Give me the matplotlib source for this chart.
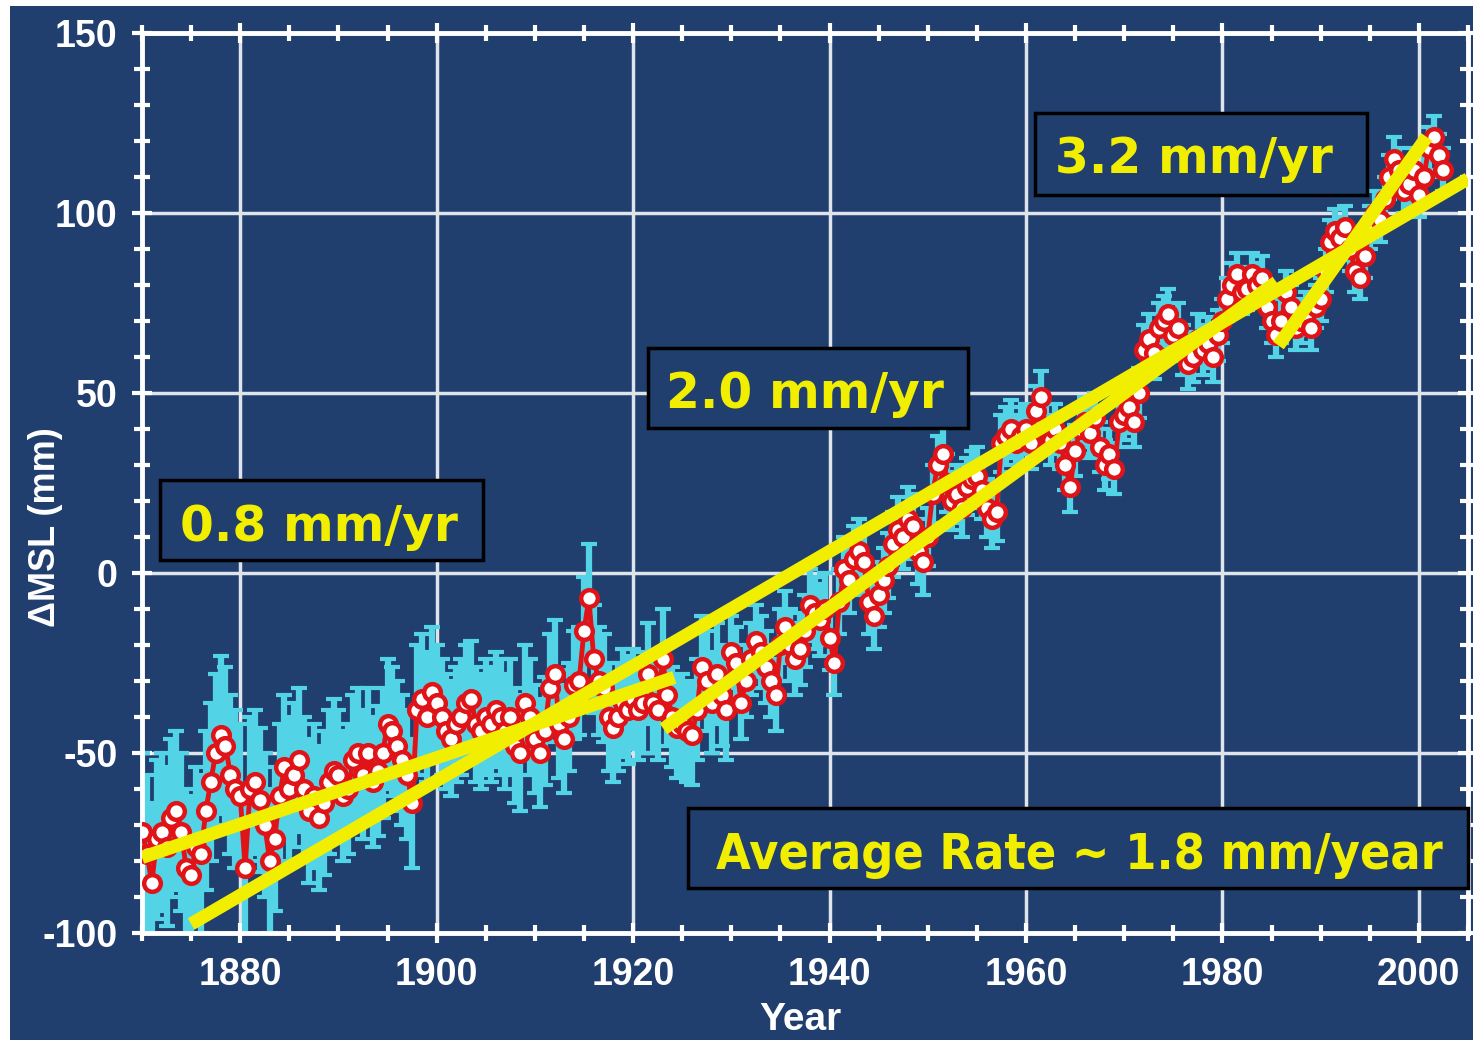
import numpy as np
import matplotlib
matplotlib.use("Agg")
import matplotlib.pyplot as plt
from matplotlib.patches import Rectangle

plt.rcParams["axes.unicode_minus"] = False

# half-yearly mean sea level anomaly (mm), one list per decade
msl_1870s = [-72, -78, -86, -74, -72, -76, -68, -66, -72, -82, -84, -76, -78, -66, -58, -50, -45, -48, -56, -60]
msl_1880s = [-62, -82, -60, -58, -63, -70, -80, -74, -62, -54, -60, -56, -52, -60, -66, -62, -68, -64, -58, -55]
msl_1890s = [-56, -62, -60, -52, -50, -56, -50, -58, -55, -50, -42, -44, -48, -52, -56, -64, -38, -35, -40, -33]
msl_1900s = [-36, -40, -44, -46, -42, -40, -36, -35, -42, -44, -40, -42, -38, -40, -44, -40, -48, -50, -36, -40]
msl_1910s = [-46, -50, -44, -32, -28, -42, -46, -40, -31, -30, -16, -7, -24, -30, -32, -40, -43, -40, -36, -38]
msl_1920s = [-35, -38, -36, -28, -36, -38, -24, -34, -40, -43, -42, -44, -45, -38, -26, -30, -36, -28, -34, -38]
msl_1930s = [-22, -25, -36, -30, -24, -19, -22, -26, -30, -34, -20, -15, -20, -24, -21, -16, -9, -11, -13, -10]
msl_1940s = [-18, -25, -8, 1, -2, 4, 6, 3, -8, -12, -6, -2, 2, 8, 12, 10, 15, 13, 6, 3]
msl_1950s = [10, 22, 30, 33, 25, 20, 22, 18, 24, 26, 27, 23, 18, 15, 17, 36, 38, 40, 36, 38]
msl_1960s = [40, 36, 45, 49, 40, 37, 40, 36, 30, 24, 34, 40, 42, 39, 43, 35, 30, 33, 29, 42]
msl_1970s = [44, 46, 42, 50, 62, 65, 61, 68, 70, 72, 66, 68, 62, 58, 60, 65, 62, 64, 60, 66]
msl_1980s = [70, 76, 80, 83, 78, 79, 83, 80, 82, 74, 70, 66, 70, 78, 74, 68, 70, 72, 68, 74]
msl_1990s = [76, 84, 92, 95, 93, 96, 90, 84, 82, 88, 96, 100, 98, 104, 110, 115, 112, 106, 108, 112]
msl_2000s = [105, 110, 118, 121, 116, 112]

# error bar half-width (mm) per decade
err_by_decade = [22, 20, 18, 16, 15, 14, 10, 9, 8, 7, 7, 6, 6, 6]

# trend lines: (start year, start mm, end year, end mm)
trend_08 = [(1870.0, -79.0), (1924.2, -29.0)]
trend_avg = [(1875.0, -97.5), (2005.0, 109.5)]
trend_20 = [(1923.1, -43.3), (1985.5, 80.8)]
trend_32 = [(1985.7, 63.2), (2000.8, 121.1)]

decades = [msl_1870s, msl_1880s, msl_1890s, msl_1900s, msl_1910s, msl_1920s, msl_1930s,
           msl_1940s, msl_1950s, msl_1960s, msl_1970s, msl_1980s, msl_1990s, msl_2000s]
msl = np.concatenate(decades)
years = np.concatenate([1870 + 10 * i + 0.5 * np.arange(len(d)) for i, d in enumerate(decades)])
err = np.concatenate([[e] * len(d) for e, d in zip(err_by_decade, decades)])

navy = "#203e6e"
cyan = "#52d3e6"
red = "#e01418"
yellow = "#f2ee00"

fig = plt.figure(figsize=(14.73, 10.46), dpi=100, facecolor="white")
fig.patches.append(Rectangle((10 / 1473, 6 / 1046), 1, 1 - 12 / 1046, transform=fig.transFigure,
                             facecolor=navy, edgecolor="none", zorder=-10))
ax = fig.add_axes([142 / 1473, 113 / 1046, 1326 / 1473, 900 / 1046])
ax.set_facecolor(navy)

ax.errorbar(years, msl, yerr=err, fmt="none", ecolor=cyan, elinewidth=4.5, capsize=6,
            capthick=3, zorder=2)
ax.plot(years, msl, "-o", color=red, lw=3.5, ms=12, mfc="white", mec=red, mew=3.2, zorder=3)

for seg in [trend_08, trend_avg, trend_20, trend_32]:
    (x0, y0), (x1, y1) = seg
    ax.plot([x0, x1], [y0, y1], color=yellow, lw=9.5, solid_capstyle="butt", zorder=4)

ax.set_xlim(1870, 2005)
ax.set_ylim(-100, 150)
ax.set_xticks(np.arange(1880, 2001, 20))
ax.set_xticks(np.arange(1870, 2006, 5), minor=True)
ax.set_yticks(np.arange(-100, 151, 50))
ax.set_yticks(np.arange(-100, 151, 10), minor=True)
ax.grid(True, which="major", color="#dfe3ea", lw=2.5, zorder=1)
ax.set_axisbelow(True)

for s in ax.spines.values():
    s.set_color("white")
    s.set_linewidth(3.5)
ax.tick_params(which="both", direction="inout", colors="white", top=True, right=True, width=3)
ax.tick_params(which="major", length=15, pad=10)
ax.tick_params(which="minor", length=11)
for lab in ax.get_xticklabels() + ax.get_yticklabels():
    lab.set_fontfamily("Liberation Sans")
    lab.set_fontweight("bold")
    lab.set_fontsize(27)
ax.tick_params(axis="y", labelright=False)
ax.tick_params(axis="x", labeltop=False)

fig.text(46 / 1473, 1 - 527 / 1046, "\u0394MSL (mm)", rotation=90, ha="center", va="center",
         color="white", fontsize=26, fontweight="bold", family="Liberation Sans")
fig.text(800 / 1473, 1 - 1020 / 1046, "Year", ha="center", va="center",
         color="white", fontsize=28, fontweight="bold", family="Liberation Sans")


def label_box(x0, x1, y0, y1, tx, ty, text, **kw):
    ax.add_patch(Rectangle((x0, y0), x1 - x0, y1 - y0, facecolor=navy, edgecolor="black",
                           lw=2.5, zorder=5, clip_on=False))
    ax.text(tx, ty, text, ha="center", va="baseline", color=yellow, fontweight="bold",
            zorder=6, **kw)


label_box(1871.8, 1904.7, 3.5, 25.7, 1888.0, 9.0, "0.8 mm/yr", fontsize=35, family="DejaVu Sans")
label_box(1921.5, 1954.1, 40.2, 62.4, 1937.5, 45.7, "2.0 mm/yr", fontsize=35, family="DejaVu Sans")
label_box(1960.9, 1994.7, 104.9, 127.7, 1977.1, 111.0, "3.2 mm/yr", fontsize=35, family="DejaVu Sans")
label_box(1925.6, 2005.0, -87.6, -65.4, 1965.4, -82.1, "Average Rate ~ 1.8 mm/year",
          fontsize=36, family="DejaVu Sans", fontstretch="condensed")

fig.savefig("out.png", dpi=100, facecolor=fig.get_facecolor())
